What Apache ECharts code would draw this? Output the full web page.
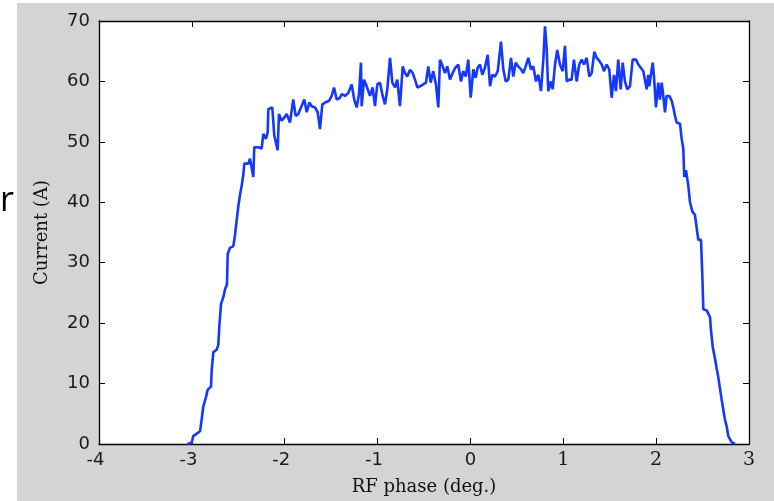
<!DOCTYPE html>
<html>
<head>
<meta charset="utf-8">
<script src="https://cdn.jsdelivr.net/npm/echarts@6/dist/echarts.min.js"></script>
<style>
html,body{margin:0;padding:0;background:#fff;}
#bg{position:absolute;left:17px;top:3px;width:757px;height:498px;background:#d4d4d4;}
#chart{position:absolute;left:0;top:0;width:774px;height:501px;}
</style>
</head>
<body>
<div id="bg"></div>
<div id="chart"></div>
<script>
// RF phase (deg.)
const phase = [
-3.05,-3.002,-2.985,-2.912,-2.894,-2.877,-2.851,-2.829,-2.794,-2.786,-2.769,-2.733,-2.715,-2.705,-2.686,-2.661,-2.643,-2.622,-2.614,-2.589,-2.554,-2.535,-2.517,-2.500,-2.482,-2.463,-2.446,-2.435,-2.392,-2.374,-2.338,-2.328,-2.285,-2.248,-2.231,-2.202,-2.183,-2.177,
-2.134,-2.112,-2.076,-2.062,-2.033,-2.005,-1.979,-1.943,-1.908,-1.882,-1.854,-1.825,-1.789,-1.763,-1.735,-1.709,-1.674,-1.645,-1.620,-1.595,-1.566,-1.523,-1.494,-1.469,-1.440,-1.405,-1.386,-1.351,-1.315,-1.279,-1.251,-1.225,-1.200,-1.179,-1.171,
-1.146,-1.117,-1.082,-1.053,-1.028,-1.003,-0.974,-0.945,-0.920,-0.895,-0.866,-0.841,-0.812,-0.788,-0.759,-0.729,-0.705,-0.680,-0.651,-0.622,-0.597,-0.572,-0.543,-0.508,-0.479,-0.454,-0.428,-0.400,-0.371,-0.346,-0.328,-0.299,-0.274,-0.249,-0.220,-0.191,-0.166,
-0.131,-0.102,-0.077,-0.051,-0.023,0.003,0.031,0.057,0.078,0.103,0.128,0.157,0.186,0.211,0.235,0.264,0.294,0.329,0.354,0.380,0.408,0.437,0.462,0.487,0.515,0.545,0.569,0.595,0.623,0.652,0.677,0.706,0.731,0.760,0.785,0.803,0.821,0.838,0.868,
0.886,0.911,0.935,0.964,0.994,1.018,1.037,1.065,1.090,1.115,1.144,1.172,1.198,1.223,1.252,1.280,1.306,1.334,1.360,1.388,1.414,1.438,1.467,1.495,1.521,1.546,1.567,1.592,1.618,1.640,1.664,1.689,1.718,1.747,1.783,1.808,1.833,1.862,1.898,1.915,
1.926,1.941,1.963,1.977,1.998,2.023,2.041,2.060,2.077,2.095,2.113,2.142,2.167,2.185,2.203,2.221,2.257,2.275,2.292,2.303,2.321,2.346,2.364,2.389,2.418,2.437,2.454,2.483,2.497,2.508,2.544,2.580,2.591,2.609,2.634,2.652,2.669,2.687,2.706,2.723,2.741,2.760,2.777,2.813,2.849
];
// Current (A)
const current = [
0,0.2,1.3,2.1,4.1,6.2,7.6,9.0,9.5,12.2,15.2,15.6,16.4,19.3,23.2,24.3,25.6,26.4,31.4,32.5,32.7,34.6,37.1,39.3,41.2,42.8,44.5,46.4,46.4,47.2,44.2,49.1,49.1,48.9,51.3,50.5,51.6,55.4,
55.7,51.0,48.6,54.6,53.5,54.0,54.6,53.2,57.0,54.3,54.6,55.7,57.0,54.9,56.5,55.9,55.7,54.9,52.1,56.2,56.5,56.8,57.6,59.0,57.0,57.3,57.9,57.6,58.1,59.5,57.0,55.7,57.9,63.1,55.9,
60.3,59.2,57.6,59.0,55.9,59.5,59.8,57.6,56.2,58.7,63.9,59.8,59.0,60.3,55.9,62.5,61.4,60.8,61.9,61.4,60.3,59.0,59.2,59.5,59.8,62.5,59.8,61.7,59.5,55.7,63.6,62.5,61.4,62.5,60.3,61.4,62.2,
62.8,60.0,61.7,60.8,63.6,57.3,62.0,60.6,62.3,62.8,61.1,62.3,64.4,59.2,61.1,60.8,61.7,66.6,62.0,60.0,60.3,63.9,60.8,63.1,62.5,62.0,61.4,62.5,63.9,62.0,62.5,60.0,61.1,58.4,63.6,69.1,65.5,58.4,60.0,
58.7,62.8,65.2,62.8,61.7,65.9,60.0,60.3,60.3,63.6,60.0,62.8,63.6,62.8,63.9,60.8,61.4,64.9,63.9,63.4,62.8,61.7,62.8,62.0,57.3,61.1,58.4,63.6,58.7,63.1,60.0,58.7,59.2,63.6,63.6,62.8,62.3,61.7,58.7,61.1,
59.2,60.8,63.1,60.8,55.7,59.8,57.0,59.8,57.6,54.9,57.6,57.6,56.8,55.7,54.3,53.2,53.0,50.5,48.9,44.2,45.3,42.8,40.1,38.5,37.9,35.7,33.8,33.8,28.1,22.3,22.1,21.0,18.8,16.1,14.1,12.5,11.1,9.2,7.3,5.7,4.0,2.9,1.3,0.3,0
];
const xTitle = 'RF phase (deg.)';
const yTitle = 'Current (A)';
const sideText = 'r';

const chart = echarts.init(document.getElementById('chart'), null, {renderer: 'canvas'});
const sans = 'DejaVu Sans';
const serif = 'DejaVu Serif';
const tickStyle = {show: true, inside: true, length: 6, lineStyle: {color: '#000', width: 1}};
const lineStyleAx = {show: true, onZero: false, lineStyle: {color: '#000', width: 1.3}};
const option = {
  animation: false,
  backgroundColor: 'transparent',
  grid: {left: 99, right: 25, top: 21, bottom: 53, show: true, backgroundColor: '#fff', borderWidth: 0},
  graphic: [{
    type: 'text', left: 0, top: 184,
    style: {text: sideText, fontSize: 34, fontFamily: 'Open Sans', fill: '#000'}
  }],
  xAxis: [{
    type: 'value', min: -4, max: 3, interval: 1, position: 'bottom',
    axisLine: lineStyleAx, axisTick: tickStyle, splitLine: {show: false},
    name: xTitle, nameLocation: 'middle', nameGap: 34,
    nameTextStyle: {fontFamily: serif, fontSize: 18, color: '#111'},
    axisLabel: {
      margin: 7, color: '#1a1a1a',
      formatter: function (v) {
        if (v < 0) return '{n|-' + Math.abs(v) + '}{s|}';
        if (v > 0) return '{p|' + v + '}';
        return '{n|0}';
      },
      rich: {
        n: {fontFamily: sans, fontSize: 18, color: '#1a1a1a'},
        s: {width: 7, fontSize: 18},
        p: {fontFamily: serif, fontSize: 19, color: '#1a1a1a'}
      }
    }
  }, {
    type: 'value', min: -4, max: 3, interval: 1, position: 'top',
    axisLine: lineStyleAx, axisTick: tickStyle, axisLabel: {show: false}, splitLine: {show: false}
  }],
  yAxis: [{
    type: 'value', min: 0, max: 70, interval: 10, position: 'left',
    axisLine: lineStyleAx, axisTick: tickStyle, splitLine: {show: false},
    name: yTitle, nameLocation: 'middle', nameGap: 48,
    nameTextStyle: {fontFamily: serif, fontSize: 18, color: '#111'},
    axisLabel: {margin: 9, fontFamily: sans, fontSize: 18, color: '#1a1a1a'}
  }, {
    type: 'value', min: 0, max: 70, interval: 10, position: 'right',
    axisLine: lineStyleAx, axisTick: tickStyle, axisLabel: {show: false}, splitLine: {show: false}
  }],
  series: [{
    type: 'line',
    data: phase.map((x, i) => [x, current[i]]),
    showSymbol: false, symbol: 'none',
    lineStyle: {color: '#1438ff', width: 2.6},
    xAxisIndex: 0, yAxisIndex: 0
  }]
};
chart.setOption(option);
</script>
</body>
</html>
